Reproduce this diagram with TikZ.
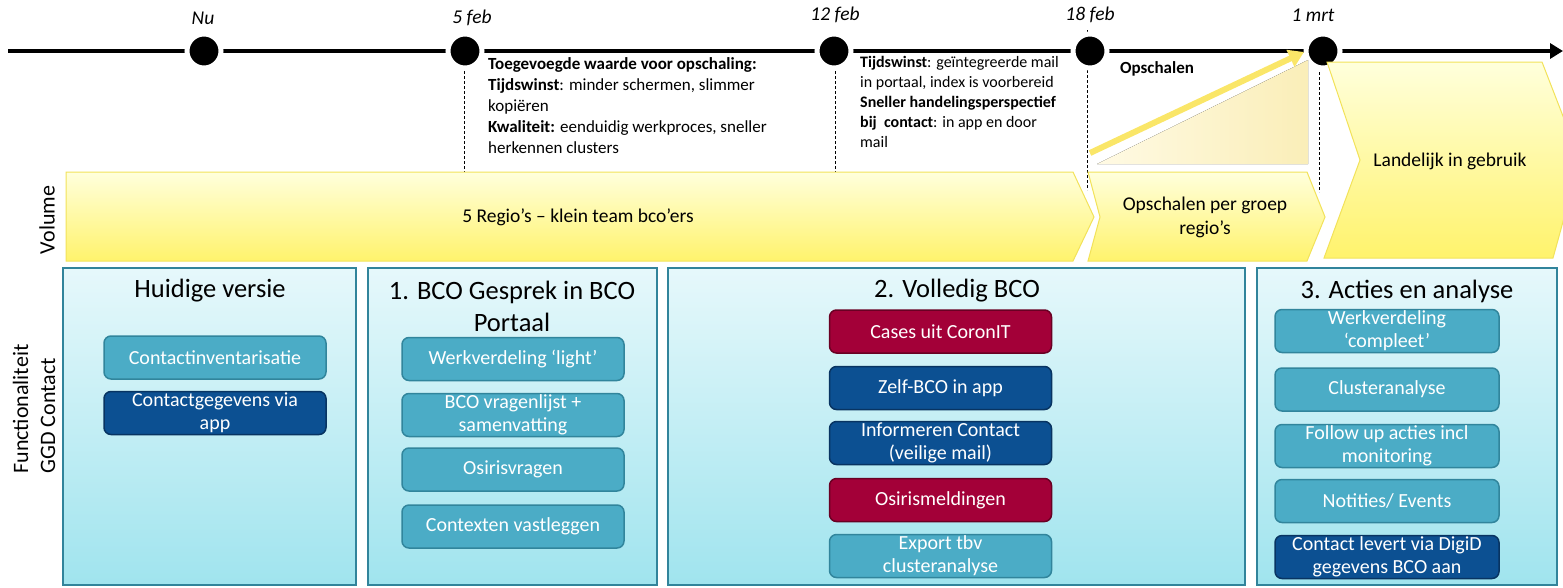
\documentclass[tikz,border=0pt]{standalone}
\usepackage{fontspec}
\setmainfont{Carlito}
\usetikzlibrary{arrows.meta}
\newcommand\myfs[2]{\fontsize{#1}{#2}\selectfont}
\definecolor{teal1}{RGB}{75,172,198}
\definecolor{teal1d}{RGB}{49,133,156}
\definecolor{dblue}{RGB}{12,80,146}
\definecolor{dblued}{RGB}{8,52,98}
\definecolor{crim}{RGB}{163,0,56}
\definecolor{crimd}{RGB}{105,0,35}
\definecolor{paneltop}{RGB}{230,248,251}
\definecolor{panelbot}{RGB}{160,228,238}
\definecolor{panelline}{RGB}{49,132,155}
\definecolor{chevtop}{RGB}{255,255,220}
\definecolor{chevbot}{RGB}{255,243,108}
\definecolor{chevline}{RGB}{242,226,90}
\definecolor{arrowyel}{RGB}{250,230,104}
\definecolor{triL}{RGB}{255,250,228}
\definecolor{triR}{RGB}{250,238,184}
\tikzset{
  dot/.style={circle, fill=black, draw=white, line width=5pt, minimum size=34pt, inner sep=0pt},
  datelbl/.style={font=\myfs{19.5}{22}\itshape, inner sep=0pt},
  dashline/.style={black, line width=0.8pt, dash pattern=on 3pt off 2pt},
  chev/.style={draw=chevline, line width=1pt, top color=chevtop, bottom color=chevbot},
  panel/.style={draw=panelline, line width=1.5pt, top color=paneltop, bottom color=panelbot},
  ptitle/.style={font=\myfs{26.5}{32}, align=center, inner sep=0pt},
  fbox/.style={rounded corners=7pt, line width=1.5pt, text=white, font=\myfs{20}{23}, align=center, minimum width=222pt, minimum height=43pt, inner sep=0pt},
  tealbox/.style={fbox, fill=teal1, draw=teal1d},
  bluebox/.style={fbox, fill=dblue, draw=dblued},
  redbox/.style={fbox, fill=crim, draw=crimd},
  chevtxt/.style={font=\myfs{19.5}{24}, align=center, inner sep=0pt},
  notetxt/.style={anchor=north west, align=left, inner sep=0pt}
}
\begin{document}
\begin{tikzpicture}[x=1pt,y=-1pt]
\useasboundingbox (0,0) rectangle (1563,587);
% timeline coordinates
\coordinate (c0) at (204,51);
\coordinate (c1) at (465,51);
\coordinate (c2) at (834,51);
\coordinate (c3) at (1090,51);
\coordinate (c4) at (1323,51);
\coordinate (tstart) at (8,51);
\coordinate (tend) at (1563,51);
% dashed drop lines
\coordinate (e1) at (464,172);
\coordinate (e2) at (835,172);
\coordinate (s3) at (1087,30);
\coordinate (e3) at (1087,190);
\coordinate (s4) at (1319,32);
\coordinate (e4) at (1319,192);
\draw[dashline] (c1 -| e1) -- (e1);
\draw[dashline] (c2 -| e2) -- (e2);
\draw[dashline] (s3) -- (e3);
\draw[dashline] (s4) -- (e4);
% timeline
\draw[line width=3.5pt, -{Triangle[length=13pt,width=15pt]}] (tstart) -- (tend);
\node[dot] (d0) at (c0) {};
\node[dot] (d1) at (c1) {};
\node[dot] (d2) at (c2) {};
\node[dot] (d3) at (c3) {};
\node[dot] (d4) at (c4) {};
\node[datelbl] (l0) at (203,18) {Nu};
\node[datelbl] (l1) at (472,18) {5 feb};
\node[datelbl] (l2) at (835,15) {12 feb};
\node[datelbl] (l3) at (1090,15) {18 feb};
\node[datelbl] (l4) at (1313,15) {1 mrt};
% notes
\node[notetxt, font=\myfs{17}{21}] (n1) at (488,57) {\textbf{Toegevoegde waarde voor opschaling:}\\\textbf{Tijdswinst}: minder schermen, slimmer\\kopiëren\\\textbf{Kwaliteit:} eenduidig werkproces, sneller\\herkennen clusters};
\node[notetxt, font=\myfs{16}{20}] (n2) at (860,56) {\textbf{Tijdswinst}: geïntegreerde mail\\in portaal, index is voorbereid\\\textbf{Sneller handelingsperspectief}\\\textbf{bij\ \ contact}: in app en door\\mail};
\node[font=\myfs{17}{20}\bfseries, inner sep=0pt] (ops) at (1157,69) {Opschalen};
% scaling triangle and arrow
\fill[left color=triL, right color=triR] (1097,164) -- (1308,60) -- (1308,164) -- cycle;
\coordinate (ya) at (1090,153);
\coordinate (yb) at (1304,52);
\draw[arrowyel, line width=6pt, -{Triangle[length=15pt,width=18pt]}] (ya) -- (yb);
% volume chevrons
\begin{scope}
\clip (0,0) rectangle (1563,587);
\path[chev] (66,172) -- (1073,172) -- (1094,217) -- (1073,261) -- (66,261) -- cycle;
\path[chev] (1088,172) -- (1307,172) -- (1325,217) -- (1307,261) -- (1088,261) -- (1100,217) -- cycle;
\path[chev] (1327,62) -- (1542,62) -- (1580,160) -- (1553,258) -- (1324,258) -- (1360,160) -- cycle;
\end{scope}
\node[chevtxt] (v1) at (578,217) {5 Regio’s -- klein team bco’ers};
\node[chevtxt] (v2) at (1205,217) {Opschalen per groep\\regio’s};
\node[chevtxt] (v3) at (1450,161) {Landelijk in gebruik};
\node[font=\myfs{22}{24}, rotate=90, inner sep=0pt] (vol) at (47,220) {Volume};
\node[font=\myfs{22}{27}, rotate=90, align=left, inner sep=0pt] (func) at (34,409) {Functionaliteit\\GGD Contact};
% panels
\path[panel] (63,268) rectangle (356,585);
\path[panel] (368,268) rectangle (657,585);
\path[panel] (668,268) rectangle (1245,585);
\path[panel] (1257,268) rectangle (1557,585);
\node[ptitle] (p1) at (210,291) {Huidige versie};
\node[ptitle] (p2) at (512,306) {1. BCO Gesprek in BCO\\Portaal};
\node[ptitle] (p3) at (957,291) {2. Volledig BCO};
\node[ptitle] (p4) at (1407,291) {3. Acties en analyse};
% panel 1
\node[tealbox] (a1) at (215,357.5) {Contactinventarisatie};
\node[bluebox] (a2) at (215,413) {Contactgegevens via\\app};
% panel 2
\node[tealbox] (b1) at (513,359) {Werkverdeling ‘light’};
\node[tealbox] (b2) at (513,415) {BCO vragenlijst +\\samenvatting};
\node[tealbox] (b3) at (513,469.5) {Osirisvragen};
\node[tealbox] (b4) at (513,526.5) {Contexten vastleggen};
% panel 3
\node[redbox] (c1b) at (940.5,331.5) {Cases uit CoronIT};
\node[bluebox] (c2b) at (940.5,388) {Zelf-BCO in app};
\node[bluebox] (c3b) at (940.5,443) {Informeren Contact\\(veilige mail)};
\node[redbox] (c4b) at (940.5,500) {Osirismeldingen};
\node[tealbox] (c5b) at (940.5,556) {Export tbv\\clusteranalyse};
% panel 4
\node[tealbox, minimum width=224pt] (d1b) at (1387,331) {Werkverdeling\\‘compleet’};
\node[tealbox, minimum width=224pt] (d2b) at (1387,389.5) {Clusteranalyse};
\node[tealbox, minimum width=224pt] (d3b) at (1387,446) {Follow up acties incl\\monitoring};
\node[tealbox, minimum width=224pt] (d4b) at (1387,501) {Notities/ Events};
\node[bluebox, minimum width=224pt] (d5b) at (1387,557) {Contact levert via DigiD\\gegevens BCO aan};
\end{tikzpicture}
\end{document}
